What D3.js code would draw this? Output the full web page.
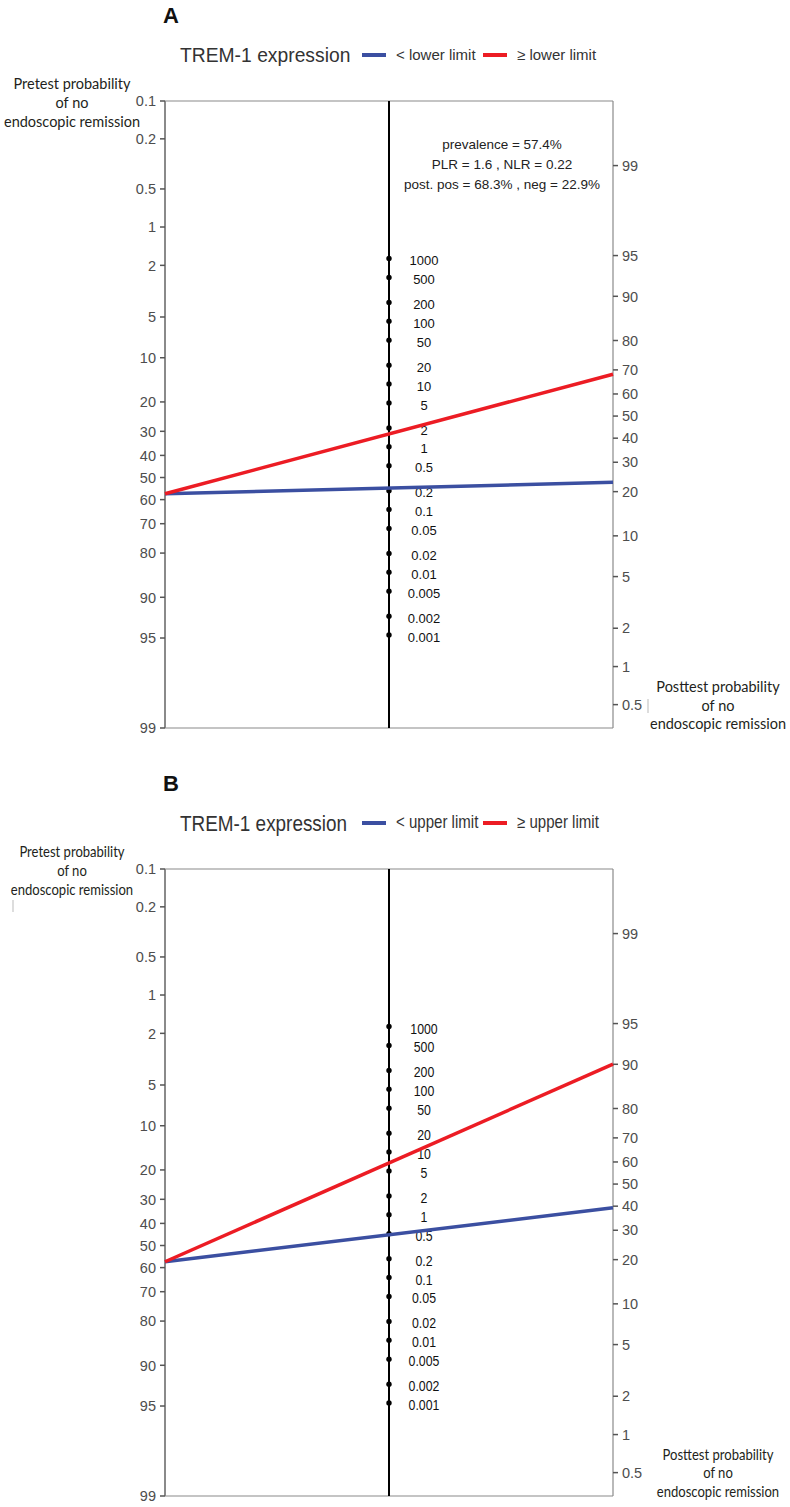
<!DOCTYPE html>
<html><head><meta charset="utf-8">
<script src="https://cdn.jsdelivr.net/npm/d3@7"></script>
<style>body{margin:0;background:#fff}</style>
</head><body>
<svg id="chart" width="790" height="1507"></svg>
<script>
// ---------------- data ----------------
const panelLabels = ["A", "B"];
const legendTitle = "TREM-1 expression";
const seriesNamesA = ["< lower limit", "≥ lower limit"];
const seriesNamesB = ["< upper limit", "≥ upper limit"];
const seriesColors = ["#3b4fa1", "#ec1c24"];
const prevalence = [57.4, 57.4];          // pretest probability (%) per panel
const nlrValues = [0.22, 0.48];           // negative likelihood ratio per panel
const plrValues = [1.6, 6.7];             // positive likelihood ratio per panel
const probTicksLeft = [0.1, 0.2, 0.5, 1, 2, 5, 10, 20, 30, 40, 50, 60, 70, 80, 90, 95, 99];
const probTicksRight = [0.5, 1, 2, 5, 10, 20, 30, 40, 50, 60, 70, 80, 90, 95, 99];
const lrTicks = [1000, 500, 200, 100, 50, 20, 10, 5, 2, 1, 0.5, 0.2, 0.1, 0.05, 0.02, 0.01, 0.005, 0.002, 0.001];
const annotationA = ["prevalence = 57.4%", "PLR = 1.6 , NLR = 0.22", "post. pos = 68.3% , neg = 22.9%"];
const axisTitleLeft = ["Pretest probability", "of no", "endoscopic remission"];
const axisTitleRight = ["Posttest probability", "of no", "endoscopic remission"];

// ---------------- layout ----------------
const svg = d3.select("#chart");
const X_LEFT = 165, X_RIGHT = 613, X_MID = 389;
const PANEL_TOP = 101, PANEL_H = 627, PANEL_STEP = 768;
const RIGHT_SHIFT = -1.127; // offset of posttest scale (logit units)
const logit = p => Math.log(p / (1 - p));
const pct = v => v / 100;
const squeeze = (cx, s) => `translate(${cx},0) scale(${s},1) translate(${-cx},0)`;

function drawPanel(i) {
  const dy = i * PANEL_STEP;
  const top = PANEL_TOP + dy, bottom = top + PANEL_H;
  const condensed = i === 1;
  const y = d3.scaleLinear().domain([logit(0.001), logit(0.99)]).range([top, bottom]);
  const yLeft = p => y(logit(pct(p)));
  const yRight = p => y(-logit(pct(p)) + RIGHT_SHIFT);
  const yMid = lr => y(-Math.log(lr) / 2 + RIGHT_SHIFT / 2);
  const g = svg.append("g");
  const sans = "'Liberation Sans', Arial, sans-serif";
  const titleFont = "Lato, 'Open Sans', sans-serif";

  // panel letter
  g.append("text").attr("x", 163).attr("y", dy + 23).text(panelLabels[i])
    .attr("font-family", sans).attr("font-weight", "bold").attr("font-size", 22).attr("fill", "#111");

  // legend
  const names = i === 0 ? seriesNamesA : seriesNamesB;
  const lg = g.append("g").attr("transform", `translate(180,${dy + 55})`);
  lg.append("text").attr("x", 0).attr("y", condensed ? 7.5 : 6.8).text(legendTitle)
    .attr("font-family", sans).attr("font-size", condensed ? 22 : 19.3).attr("fill", "#333")
    .attr("transform", condensed ? "scale(0.86,1)" : null);
  const legendItems = [
    {name: names[0], color: seriesColors[0], sx: 182, tx: 216},
    {name: names[1], color: seriesColors[1], sx: 303, tx: 337}
  ];
  legendItems.forEach(d => {
    lg.append("line").attr("x1", d.sx).attr("x2", d.sx + 24).attr("y1", 0).attr("y2", 0)
      .attr("stroke", d.color).attr("stroke-width", 4);
    lg.append("text").attr("x", d.tx).attr("y", 5.3).text(d.name)
      .attr("font-family", sans).attr("font-size", condensed ? 17.5 : 15).attr("fill", "#333")
      .attr("transform", condensed ? squeeze(d.tx, 0.86) : null);
  });

  // left axis title
  axisTitleLeft.forEach((t, k) => {
    g.append("text").attr("x", 72).attr("y", dy + 89 + k * 19).text(t)
      .attr("text-anchor", "middle").attr("font-family", titleFont).attr("font-size", 14.5)
      .attr("fill", "#231f20")
      .attr("transform", condensed ? squeeze(72, 0.9) : null);
  });
  // right axis title
  axisTitleRight.forEach((t, k) => {
    g.append("text").attr("x", 718).attr("y", dy + 692 + k * 18.5).text(t)
      .attr("text-anchor", "middle").attr("font-family", titleFont).attr("font-size", 14.5)
      .attr("fill", "#231f20")
      .attr("transform", condensed ? squeeze(718, 0.9) : null);
  });
  // small stray marks from original figure
  if (i === 0) {
    g.append("line").attr("x1", 648).attr("x2", 648).attr("y1", dy + 699).attr("y2", dy + 713)
      .attr("stroke", "#bbb").attr("stroke-width", 1);
  } else {
    g.append("line").attr("x1", 13).attr("x2", 13).attr("y1", dy + 132).attr("y2", dy + 144)
      .attr("stroke", "#bbb").attr("stroke-width", 1);
  }

  // frame
  [[X_LEFT, top, X_RIGHT, top], [X_LEFT, bottom, X_RIGHT, bottom], [X_RIGHT, top, X_RIGHT, bottom]]
    .forEach(s => g.append("line").attr("x1", s[0]).attr("y1", s[1]).attr("x2", s[2]).attr("y2", s[3])
      .attr("stroke", "#8a8a8a").attr("stroke-width", 1.2));
  g.append("line").attr("x1", X_LEFT).attr("x2", X_LEFT).attr("y1", top).attr("y2", bottom)
    .attr("stroke", "#8a8a8a").attr("stroke-width", 2);

  // left ticks
  const lt = g.selectAll(".lt").data(probTicksLeft).enter().append("g")
    .attr("transform", d => `translate(${X_LEFT},${yLeft(d)})`);
  lt.append("line").attr("x1", -5).attr("x2", 0).attr("stroke", "#555").attr("stroke-width", 1.5);
  lt.append("text").attr("x", -9).attr("dy", "0.36em").attr("text-anchor", "end").text(d => d)
    .attr("font-family", sans).attr("font-size", 14.5).attr("fill", "#4d4d4d");
  // right ticks
  const rt = g.selectAll(".rt").data(probTicksRight).enter().append("g")
    .attr("transform", d => `translate(${X_RIGHT},${yRight(d)})`);
  rt.append("line").attr("x1", 0).attr("x2", 5).attr("stroke", "#555").attr("stroke-width", 1.5);
  rt.append("text").attr("x", 9).attr("dy", "0.36em").attr("text-anchor", "start").text(d => d)
    .attr("font-family", sans).attr("font-size", 14.5).attr("fill", "#4d4d4d");

  // middle LR axis
  g.append("line").attr("x1", X_MID).attr("x2", X_MID).attr("y1", top).attr("y2", bottom)
    .attr("stroke", "#000").attr("stroke-width", 2);
  g.selectAll(".dot").data(lrTicks).enter().append("circle")
    .attr("cx", X_MID).attr("cy", d => yMid(d)).attr("r", 2.7).attr("fill", "#000");
  g.selectAll(".lrl").data(lrTicks).enter().append("text")
    .attr("x", 424).attr("y", d => yMid(d) + 2).attr("dy", "0.36em").attr("text-anchor", "middle")
    .text(d => d).attr("font-family", sans).attr("font-size", condensed ? 14 : 13).attr("fill", "#111")
    .attr("transform", condensed ? squeeze(424, 0.88) : null);

  // nomogram lines
  const pre = pct(prevalence[i]);
  const odds = pre / (1 - pre);
  const lrs = [nlrValues[i], plrValues[i]];
  lrs.forEach((lr, k) => {
    const postOdds = odds * lr;
    const post = 100 * postOdds / (1 + postOdds);
    g.append("line")
      .attr("x1", X_LEFT).attr("y1", yLeft(prevalence[i]))
      .attr("x2", X_RIGHT).attr("y2", yRight(post))
      .attr("stroke", seriesColors[k]).attr("stroke-width", 3.5);
  });

  // annotation
  if (i === 0) {
    annotationA.forEach((t, k) => {
      g.append("text").attr("x", 502).attr("y", top + 48 + k * 20).text(t)
        .attr("text-anchor", "middle").attr("font-family", sans).attr("font-size", 13.5).attr("fill", "#222");
    });
  }
}
panelLabels.forEach((_, i) => drawPanel(i));
</script>
</body></html>
